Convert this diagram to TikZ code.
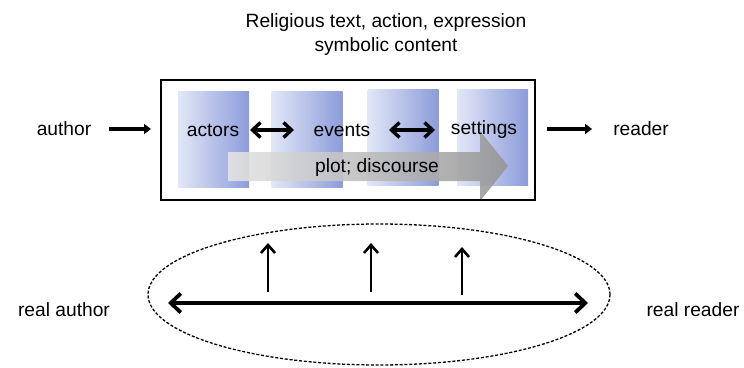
\documentclass[tikz,border=0pt]{standalone}
\usepackage{fontspec}
\setmainfont{Liberation Sans}
\usetikzlibrary{arrows.meta,shapes.geometric}
\definecolor{bluelite}{RGB}{226,231,247}
\definecolor{bluedark}{RGB}{140,156,218}
\definecolor{graylite}{RGB}{228,228,228}
\definecolor{graydark}{RGB}{150,150,150}
\tikzset{
  lbl/.style={font=\fontsize{19.2}{24}\selectfont, inner sep=0pt, align=center},
  bluebox/.style={shade, left color=bluelite, right color=bluedark, minimum width=71pt, minimum height=96pt, inner sep=0pt},
  fat/.style={line width=4.5pt, -{Triangle[length=7pt,width=10pt]}},
  dbl/.style={line width=3.4pt, {Straight Barb[length=8pt,width=15pt]}-{Straight Barb[length=8pt,width=15pt]}},
  longdbl/.style={line width=3.8pt, {Straight Barb[length=10pt,width=19pt]}-{Straight Barb[length=10pt,width=19pt]}},
  uparr/.style={line width=2.6pt, -{Straight Barb[length=8pt,width=14pt]}},
}
\begin{document}
\begin{tikzpicture}[x=1pt,y=-1pt]
\useasboundingbox (0,0) rectangle (744,367);
% title
\node[lbl] (title) at (386,35) {Religious text, action, expression\\symbolic content};
% blue boxes
\node[bluebox] (ra) at (213.5,139) {};
\node[bluebox] (rb) at (307,139) {};
\node[bluebox] (rc) at (403,137) {};
\node[bluebox] (rd) at (492.5,137) {};
% gray arrow
\shade[left color=graylite, right color=graydark, opacity=0.9]
  (228,152) -- (480,152) -- (480,131) -- (508,166) -- (480,201) -- (480,181) -- (228,181) -- cycle;
\node[lbl] (plot) at (377,168) {plot; discourse};
% outer box
\node[draw, line width=2pt, minimum width=374pt, minimum height=120pt, inner sep=0pt] (box) at (348,140) {};
% labels inside
\node[lbl] (actors) at (213,130) {actors};
\node[lbl] (events) at (342,130) {events};
\node[lbl] (settings) at (484,130) {settings};
\coordinate (d1) at (250,130); \coordinate (d2) at (294,130);
\coordinate (d3) at (389,130); \coordinate (d4) at (435,130);
\draw[dbl] (d1) -- (d2);
\draw[dbl] (d3) -- (d4);
% author / reader
\node[lbl] (author) at (64,129) {author};
\node[lbl] (reader) at (641,129) {reader};
\coordinate (a1) at ([xshift=18pt]author.east);
\coordinate (a2) at ([xshift=-9pt]a1 -| box.west);
\coordinate (r2) at ([xshift=-21pt]reader.west);
\coordinate (r1) at ([xshift=11pt]r2 -| box.east);
\draw[fat] (a1) -- (a2);
\draw[fat] (r1) -- (r2);
% ellipse
\node[draw, ellipse, dash pattern=on 3pt off 1.8pt, line width=1.3pt, minimum width=462pt, minimum height=141pt, inner sep=0pt] (ell) at (379,294.5) {};
\coordinate (la) at (168,303);
\coordinate (ra2) at (588,303);
\draw[longdbl] (la) -- (ra2);
\coordinate (u1a) at (268,292); \coordinate (u1b) at (268,243);
\coordinate (u2a) at (371,292); \coordinate (u2b) at (371,243);
\coordinate (u3a) at (462,295); \coordinate (u3b) at (462,247);
\draw[uparr] (u1a) -- (u1b);
\draw[uparr] (u2a) -- (u2b);
\draw[uparr] (u3a) -- (u3b);
\node[lbl] (rauthor) at (64,310) {real author};
\node[lbl] (rreader) at (693,310) {real reader};
\end{tikzpicture}
\end{document}
